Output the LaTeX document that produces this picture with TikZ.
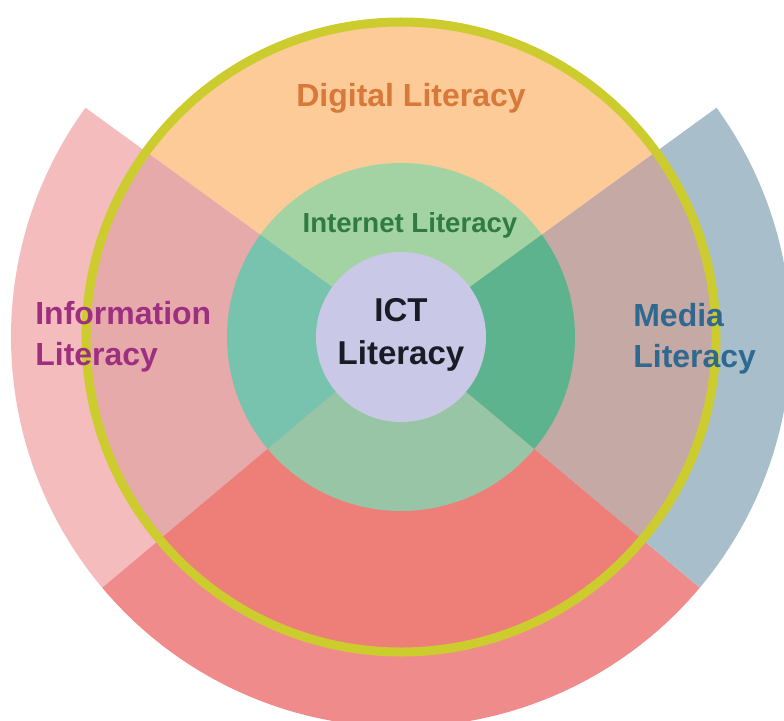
\documentclass[tikz,border=0pt]{standalone}
\usepackage{fontspec}
\setmainfont{Liberation Sans}

\definecolor{pinkout}{HTML}{F4BCBC}
\definecolor{pinkin}{HTML}{E6AAAA}
\definecolor{blueout}{HTML}{A8BFCB}
\definecolor{bluein}{HTML}{C4A9A5}
\definecolor{redout}{HTML}{F08B8B}
\definecolor{redin}{HTML}{EE7F78}
\definecolor{digitalfill}{HTML}{FCCB98}
\definecolor{nettop}{HTML}{A3D3A2}
\definecolor{netleft}{HTML}{78C3AD}
\definecolor{netright}{HTML}{5CB38D}
\definecolor{netbottom}{HTML}{98C5A5}
\definecolor{ictfill}{HTML}{C9C8E6}
\definecolor{ringline}{HTML}{CCCC2E}
\definecolor{digitaltext}{HTML}{D8793A}
\definecolor{nettext}{HTML}{2F7A45}
\definecolor{infotext}{HTML}{9D2E80}
\definecolor{mediatext}{HTML}{2F6890}
\definecolor{icttext}{HTML}{1B1B26}

\begin{document}
\begin{tikzpicture}[inner sep=0pt]

    % Styles
    \tikzstyle{toptext} = [font=\fontsize{18.2}{22.2}\selectfont\bfseries]
    \tikzstyle{nettitle} = [font=\fontsize{15.7}{19}\selectfont\bfseries]
    \tikzstyle{sidetext} = [font=\fontsize{18.2}{23.2}\selectfont\bfseries, align=left, anchor=west]
    \tikzstyle{centertext} = [font=\fontsize{18.8}{24.5}\selectfont\bfseries, align=center]
    \tikzstyle{yellowring} = [draw=ringline, line width=0.18cm]

    % Canvas
    \useasboundingbox (-8.02,-7.66) rectangle (7.66,6.74);
    \clip (-8.02,-7.66) rectangle (7.66,6.74);
    \fill[white] (-8.02,-7.66) rectangle (7.66,6.74);

    % Outer Sectors
    \foreach \a/\b/\c in {144/220/pinkout, 220/320/redout, -40/36/blueout}
        \fill[\c] (0,0) -- (\a:7.8) arc[start angle=\a, end angle=\b, radius=7.8] -- cycle;

    % Digital Literacy Circle
    \foreach \a/\b/\c in {36/144/digitalfill, 144/220/pinkin, 220/320/redin, -40/36/bluein}
        \fill[\c] (0,0) -- (\a:6.3) arc[start angle=\a, end angle=\b, radius=6.3] -- cycle;

    % Internet Literacy Circle
    \foreach \a/\b/\c in {36/144/nettop, 144/220/netleft, 220/320/netbottom, -40/36/netright}
        \fill[\c] (0,0) -- (\a:3.48) arc[start angle=\a, end angle=\b, radius=3.48] -- cycle;

    % ICT Literacy Circle
    \fill[ictfill] (0,0) circle (1.7);

    % Outline
    \draw[yellowring] (0,0) circle (6.3);

    % Labels
    \node[toptext, text=digitaltext] (digital) at (0.2,4.78) {Digital Literacy};
    \node[nettitle, text=nettext] (internet) at (0.18,2.24) {Internet Literacy};
    \node[centertext, text=icttext] (ict) at (0,0.04) {ICT\\Literacy};
    \node[sidetext, text=infotext] (info) at (-7.32,0.0) {Information\\Literacy};
    \node[sidetext, text=mediatext] (media) at (4.64,-0.04) {Media\\Literacy};

\end{tikzpicture}
\end{document}
